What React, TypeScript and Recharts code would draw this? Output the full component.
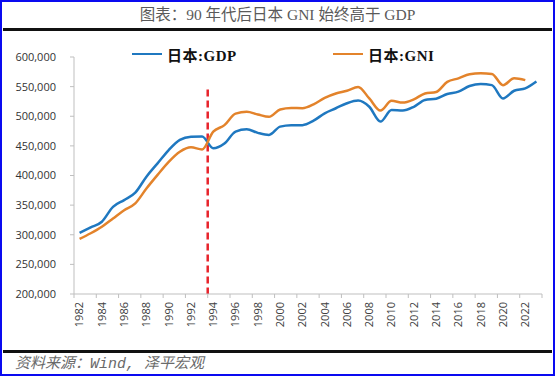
import { LineChart, Line, XAxis, YAxis, ReferenceLine } from 'recharts';

const YEARS = [
  '1982', '1983', '1984', '1985', '1986', '1987', '1988', '1989', '1990', '1991',
  '1992', '1993', '1994', '1995', '1996', '1997', '1998', '1999', '2000', '2001',
  '2002', '2003', '2004', '2005', '2006', '2007', '2008', '2009', '2010', '2011',
  '2012', '2013', '2014', '2015', '2016', '2017', '2018', '2019', '2020', '2021',
  '2022', '2023',
];

// 日本 GDP / GNI (十亿日元)
const GDP = [
  303000, 312500, 322000, 347000, 358500, 371000, 398000, 420500, 443000, 460000,
  465500, 466000, 446000, 454000, 474000, 478000, 472000, 468500, 482500, 485000,
  485000, 492500, 505000, 513500, 522000, 526500, 516000, 491000, 510500, 509500,
  516000, 527500, 529500, 537500, 541500, 551000, 554500, 552500, 530000, 543000,
  547000, 558500,
];

const GNI = [
  293000, 302500, 313500, 327500, 341500, 353000, 378000, 401000, 423000, 440000,
  447500, 444000, 474000, 485000, 504500, 507500, 503000, 499000, 511500, 514000,
  513500, 520000, 531000, 538500, 543000, 549500, 530000, 509500, 526000, 523000,
  528500, 538500, 541000, 558000, 564000, 571000, 572500, 571500, 552500, 564000,
  561000, null,
];

const Y_TICKS = [200000, 250000, 300000, 350000, 400000, 450000, 500000, 550000, 600000];
const MARK_YEAR = '1994';

const SERIES = [
  { key: 'gdp', name: '日本:GDP', color: '#1f78c0' },
  { key: 'gni', name: '日本:GNI', color: '#e3832b' },
];

const W = 555;
const H = 376;
const Y_AXIS_W = 74;
const RIGHT = 13;
const BAND = (W - Y_AXIS_W - RIGHT) / YEARS.length;
const AXIS_COLOR = '#bfbfbf';
const TICK_FONT = '"Open Sans", "Liberation Sans", sans-serif';

const data = YEARS.map((year, i) => ({ year, gdp: GDP[i], gni: GNI[i] }));

function XTick(props: any) {
  const { x, y, payload, index } = props;
  const half = BAND / 2;
  const last = index === YEARS.length - 1;
  return (
    <g>
      {index % 2 === 0 && (
        <>
          <line x1={x - half} y1={y} x2={x - half} y2={y + 4} stroke={AXIS_COLOR} />
          <text
            x={x}
            y={y + 8}
            dy="0.35em"
            transform={`rotate(-90, ${x}, ${y + 8})`}
            textAnchor="end"
            fontSize={11}
            fontFamily={TICK_FONT}
            fill="#404040"
          >
            {payload.value}
          </text>
        </>
      )}
      {last && <line x1={x + half} y1={y} x2={x + half} y2={y + 4} stroke={AXIS_COLOR} />}
    </g>
  );
}

export default function App() {
  return (
    <div style={{ position: 'absolute', left: 0, top: 0, width: W, height: H, background: '#fff' }}>
      <div
        style={{
          position: 'absolute', left: 0, top: 6, width: W, textAlign: 'center',
          fontFamily: '"Liberation Serif", "Noto Sans CJK SC", serif',
          fontSize: 15.5, lineHeight: '18px', color: '#5a5a5a',
        }}
      >
        图表：90 年代后日本 GNI 始终高于 GDP
      </div>
      <div style={{ position: 'absolute', left: 3, top: 28, width: W - 6, height: 3, background: '#111' }} />

      <LineChart width={W} height={H} data={data} margin={{ top: 57, right: RIGHT, bottom: 0, left: 0 }}>
        <XAxis
          dataKey="year"
          interval={0}
          height={82}
          padding={{ left: BAND / 2, right: BAND / 2 }}
          axisLine={{ stroke: AXIS_COLOR }}
          tickLine={false}
          tickSize={0}
          tickMargin={0}
          tick={<XTick />}
        />
        <YAxis
          width={Y_AXIS_W}
          domain={[200000, 600000]}
          ticks={Y_TICKS}
          allowDataOverflow
          axisLine={{ stroke: AXIS_COLOR }}
          tickLine={{ stroke: AXIS_COLOR }}
          tickSize={4}
          tickMargin={14}
          tickFormatter={(v: number) => v.toLocaleString('en-US')}
          tick={{ fontSize: 11, fontFamily: TICK_FONT, fill: '#333' }}
        />
        <ReferenceLine
          segment={[{ x: MARK_YEAR, y: 545000 }, { x: MARK_YEAR, y: 200000 }]}
          stroke="#e8232b"
          strokeWidth={2.5}
          strokeDasharray="7 4"
          shape={(p: any) => (
            <line
              x1={p.x1 - BAND / 2}
              y1={p.y1}
              x2={p.x2 - BAND / 2}
              y2={p.y2}
              stroke="#e8232b"
              strokeWidth={2.5}
              strokeDasharray="7 4"
            />
          )}
        />
        {SERIES.map((s) => (
          <Line
            key={s.key}
            type="monotone"
            dataKey={s.key}
            name={s.name}
            stroke={s.color}
            strokeWidth={2.5}
            dot={false}
            activeDot={false}
            connectNulls={false}
            isAnimationActive={false}
          />
        ))}
      </LineChart>

      {SERIES.map((s, i) => (
        <div
          key={s.key}
          style={{
            position: 'absolute', left: 132 + i * 201, top: 44, height: 20,
            display: 'flex', alignItems: 'center',
          }}
        >
          <span style={{ display: 'inline-block', width: 30, height: 2.5, background: s.color, marginRight: 5 }} />
          <span
            style={{
              fontFamily: '"Liberation Serif", "Noto Sans CJK SC", serif',
              fontWeight: 'bold', fontSize: 15, color: '#111', letterSpacing: 0.5,
            }}
          >
            {s.name}
          </span>
        </div>
      ))}

      <div style={{ position: 'absolute', left: 3, top: 350, width: W - 6, height: 3, background: '#111' }} />
      <div
        style={{
          position: 'absolute', left: 15, top: 356,
          fontFamily: '"Liberation Mono", "Noto Sans CJK SC", monospace',
          fontStyle: 'italic', fontSize: 15, lineHeight: '18px', color: '#6a6a6a',
        }}
      >
        资料来源：Wind, 泽平宏观
      </div>
      <div
        style={{
          position: 'absolute', left: 0, top: 0, width: W, height: H,
          boxSizing: 'border-box', border: '2px solid #0a0af0', pointerEvents: 'none',
        }}
      />
    </div>
  );
}
